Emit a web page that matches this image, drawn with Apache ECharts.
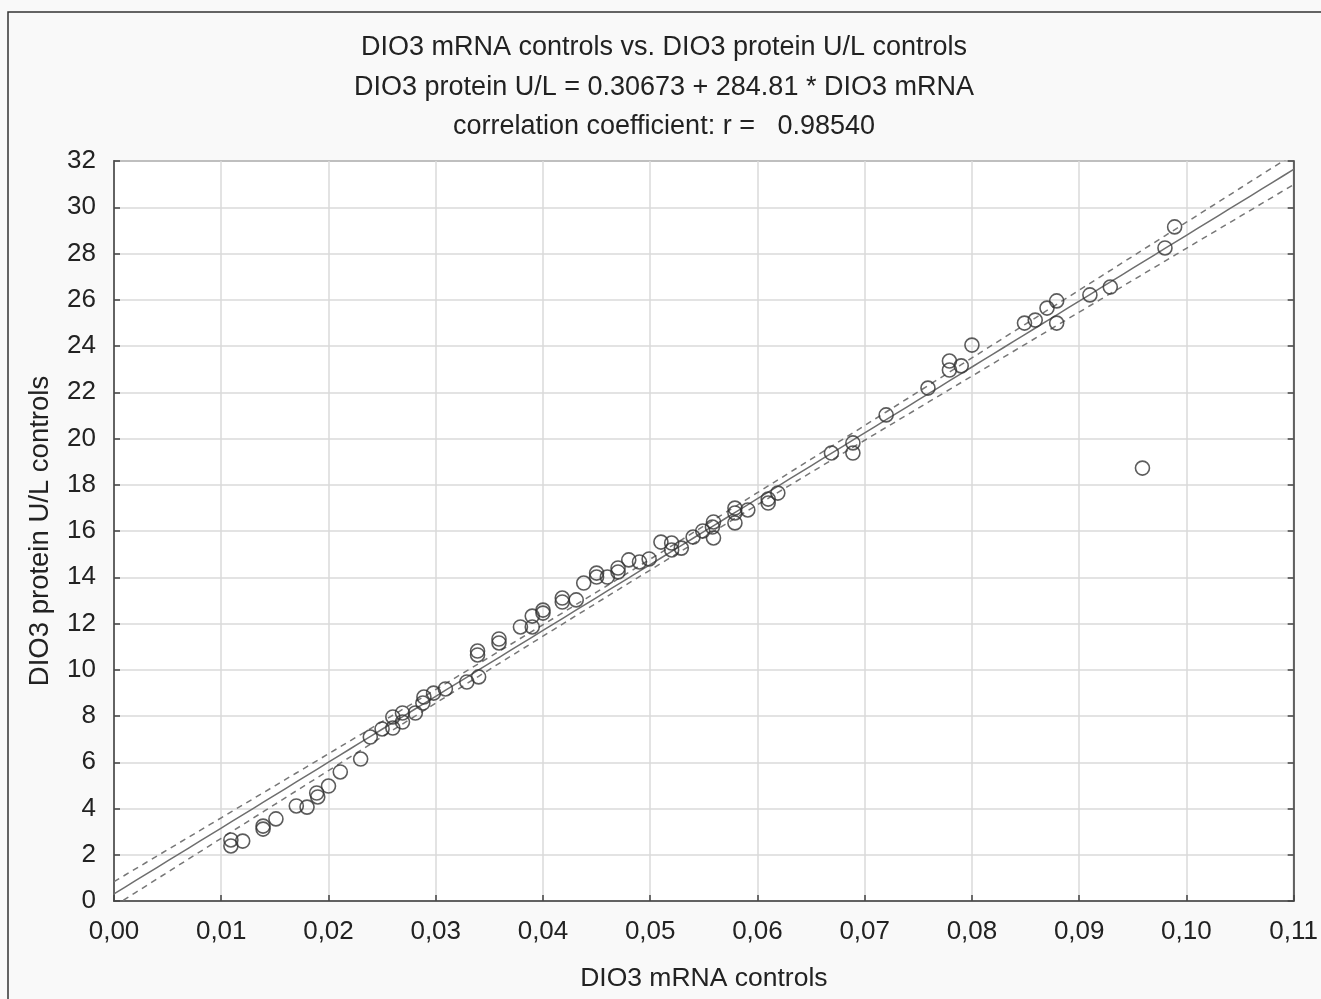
<!DOCTYPE html>
<html>
<head>
<meta charset="utf-8">
<script src="https://cdn.jsdelivr.net/npm/echarts@6/dist/echarts.min.js"></script>
<style>
html,body{margin:0;padding:0;background:#f9f9f9;}
#chart{width:1321px;height:999px;}
</style>
</head>
<body>
<div id="chart"></div>
<script>
// Data
const mrna = [0.0109,0.0109,0.0120,0.0139,0.0139,0.0151,0.0170,0.0180,0.0189,0.0190,
  0.0200,0.0211,0.0230,0.0239,0.0250,0.0260,0.0260,0.0269,0.0269,0.0281,
  0.0288,0.0289,0.0298,0.0309,0.0329,0.0340,0.0339,0.0339,0.0359,0.0359,
  0.0379,0.0390,0.0390,0.0400,0.0400,0.0418,0.0418,0.0431,0.0438,0.0450,
  0.0450,0.0460,0.0470,0.0470,0.0480,0.0490,0.0499,0.0510,0.0520,0.0520,
  0.0529,0.0540,0.0549,0.0558,0.0559,0.0559,0.0579,0.0579,0.0579,0.0591,
  0.0610,0.0610,0.0619,0.0669,0.0689,0.0689,0.0720,0.0759,0.0779,0.0779,
  0.0790,0.0800,0.0849,0.0859,0.0870,0.0879,0.0879,0.0910,0.0929,0.0959,
  0.0980,0.0989];
const protein = [2.64,2.38,2.59,3.24,3.11,3.55,4.11,4.06,4.67,4.50,
  4.97,5.58,6.14,7.09,7.44,7.48,7.96,8.13,7.74,8.13,
  8.56,8.82,8.99,9.17,9.47,9.69,10.81,10.64,11.33,11.16,
  11.85,11.85,12.32,12.58,12.45,13.10,12.93,13.02,13.75,14.18,
  14.01,14.01,14.40,14.23,14.75,14.66,14.79,15.52,15.48,15.18,
  15.26,15.74,16.00,16.17,16.39,15.70,16.99,16.78,16.35,16.91,
  17.38,17.21,17.64,19.37,19.81,19.37,21.02,22.18,23.35,22.96,
  23.14,24.04,24.99,25.12,25.64,25.95,24.99,26.21,26.55,18.72,
  28.24,29.15];
const fitCoef = [0.30673, 284.81]; // intercept, slope (from the title)
const xTicks = [0, 0.11, 0.01];   // min, max, interval
const yTicks = [0, 32, 2];
const titleLines = ['DIO3 mRNA controls vs. DIO3 protein U/L controls',
  'DIO3 protein U/L = 0.30673 + 284.81 * DIO3 mRNA',
  'correlation coefficient: r =   0.98540'];

// Derived: regression line and confidence band of the mean
const n = mrna.length;
const xbar = mrna.reduce((a,b)=>a+b,0)/n;
let sxx = 0, sse = 0;
for (let i=0;i<n;i++){
  sxx += (mrna[i]-xbar)**2;
  const r = protein[i]-(fitCoef[0]+fitCoef[1]*mrna[i]);
  sse += r*r;
}
const s = Math.sqrt(sse/(n-2));
const tval = 1.8;
const fitLine = [], upper = [], lower = [];
for (let k=0;k<=110;k++){
  const x = k/1000;
  const yh = fitCoef[0]+fitCoef[1]*x;
  const hw = tval*s*Math.sqrt(1/n + (x-xbar)**2/sxx);
  fitLine.push([x,yh]); upper.push([x,yh+hw]); lower.push([x,yh-hw]);
}
const points = mrna.map((x,i)=>[x,protein[i]]);

const chart = echarts.init(document.getElementById('chart'));
const fontFam = '"Liberation Sans", Arial, sans-serif';
chart.setOption({
  backgroundColor:'#f9f9f9',
  animation:false,
  title:{
    text: titleLines.join('\n'),
    left: 659, top: 23, textAlign:'center',
    textStyle:{fontFamily:fontFam,fontSize:27,fontWeight:'normal',color:'#222',lineHeight:39.5}
  },
  graphic:[{type:'rect',shape:{x:8,y:12,width:1330,height:1000},
    style:{fill:'none',stroke:'#333',lineWidth:1.5},silent:true,z:-1}],
  grid:{left:114,right:27,top:161,bottom:98,show:true,backgroundColor:'#ffffff',
    borderColor:'#444',borderWidth:1.5},
  xAxis:[{
    type:'value',min:xTicks[0],max:xTicks[1],interval:xTicks[2],
    name:'DIO3 mRNA controls',nameLocation:'middle',nameGap:64,
    nameTextStyle:{fontFamily:fontFam,fontSize:26.5,color:'#222'},
    axisLine:{show:true,lineStyle:{color:'#444',width:1.5}},
    axisTick:{show:true,inside:true,length:6,lineStyle:{color:'#444',width:1.5}},
    axisLabel:{fontFamily:fontFam,fontSize:26,color:'#222',margin:18,
      formatter:v=>v.toFixed(2).replace('.',',')},
    splitLine:{show:true,lineStyle:{color:'#dadada',width:1.5}}
  }],
  yAxis:[{
    type:'value',min:yTicks[0],max:yTicks[1],interval:yTicks[2],
    name:'DIO3 protein U/L controls',nameLocation:'middle',nameGap:60,
    nameTextStyle:{fontFamily:fontFam,fontSize:27.5,color:'#222'},
    axisLine:{show:true,lineStyle:{color:'#444',width:1.5}},
    axisTick:{show:true,inside:true,length:6,lineStyle:{color:'#444',width:1.5}},
    axisLabel:{fontFamily:fontFam,fontSize:26,color:'#222',margin:18},
    splitLine:{show:true,lineStyle:{color:'#dadada',width:1.5}}
  },{
    type:'value',min:yTicks[0],max:yTicks[1],interval:yTicks[2],position:'right',
    axisLine:{show:true,lineStyle:{color:'#444',width:1.5}},
    axisTick:{show:true,inside:true,length:6,lineStyle:{color:'#444',width:1.5}},
    axisLabel:{show:false},splitLine:{show:false}
  }],
  series:[
    {type:'line',data:fitLine,showSymbol:false,symbol:'none',clip:true,
      lineStyle:{color:'#6e6e6e',width:1.5},z:2},
    {type:'line',data:upper,showSymbol:false,symbol:'none',clip:true,
      lineStyle:{color:'#777',width:1.5,type:[6,5]},z:2},
    {type:'line',data:lower,showSymbol:false,symbol:'none',clip:true,
      lineStyle:{color:'#777',width:1.5,type:[6,5]},z:2},
    {type:'scatter',data:points,symbol:'circle',symbolSize:14,
      itemStyle:{color:'rgba(0,0,0,0)',borderColor:'#333',borderWidth:1.6},z:3}
  ]
});
</script>
</body>
</html>
